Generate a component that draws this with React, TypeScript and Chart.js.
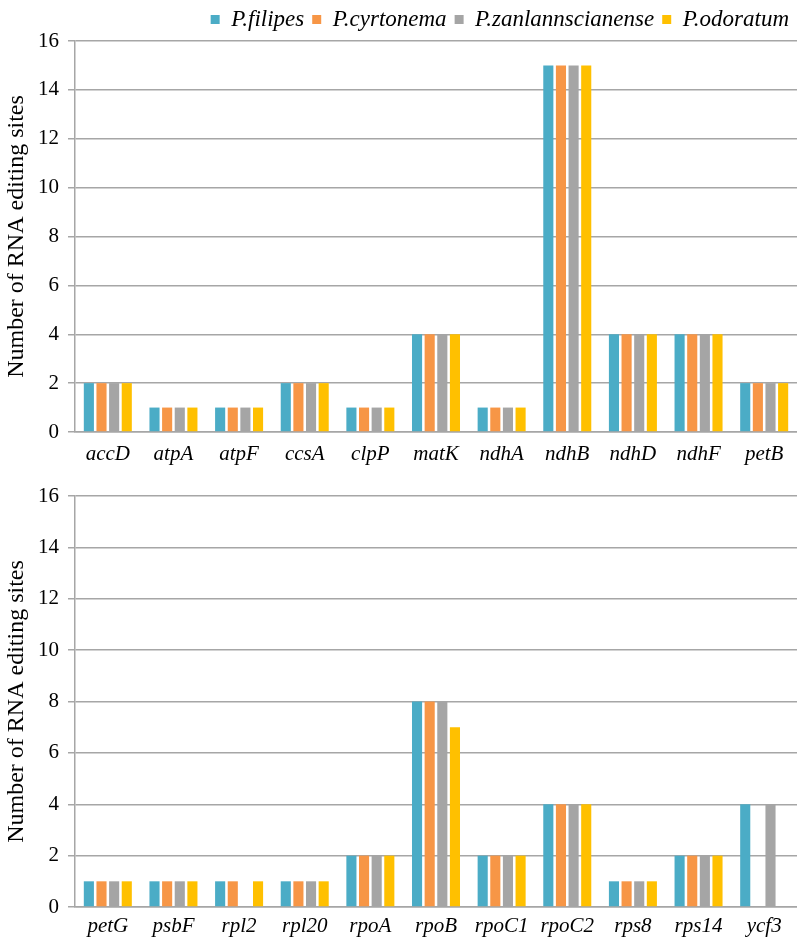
import React, { useEffect, useRef } from "react";
import { Chart, registerables } from "chart.js";

Chart.register(...registerables);

const seriesNames = ["P.filipes", "P.cyrtonema", "P.zanlannscianense", "P.odoratum"];
const seriesColors = ["#4BACC6", "#F79646", "#A5A5A5", "#FFC000"];

const genesTop = ["accD", "atpA", "atpF", "ccsA", "clpP", "matK", "ndhA", "ndhB", "ndhD", "ndhF", "petB"];
const topFilipes = [2, 1, 1, 2, 1, 4, 1, 15, 4, 4, 2];
const topCyrtonema = [2, 1, 1, 2, 1, 4, 1, 15, 4, 4, 2];
const topZanlann = [2, 1, 1, 2, 1, 4, 1, 15, 4, 4, 2];
const topOdoratum = [2, 1, 1, 2, 1, 4, 1, 15, 4, 4, 2];

const genesBottom = ["petG", "psbF", "rpl2", "rpl20", "rpoA", "rpoB", "rpoC1", "rpoC2", "rps8", "rps14", "ycf3"];
const botFilipes = [1, 1, 1, 1, 2, 8, 2, 4, 1, 2, 4];
const botCyrtonema = [1, 1, 1, 1, 2, 8, 2, 4, 1, 2, null];
const botZanlann = [1, 1, null, 1, 2, 8, 2, 4, 1, 2, 4];
const botOdoratum = [1, 1, 1, 1, 2, 7, 2, 4, 1, 2, null];

const yTitle = "Number of RNA editing sites";
const FONT = "'Liberation Serif', 'Times New Roman', serif";
const GRID = "#A6A6A6";

function makeConfig(labels: string[], data: (number | null)[][], showLegend: boolean, xHeight: number, topPad: number, xPad: number): any {
  return {
    type: "bar",
    data: {
      labels,
      datasets: data.map((d, i) => ({
        label: seriesNames[i],
        data: d,
        backgroundColor: seriesColors[i],
        borderWidth: 0,
        barPercentage: 0.8,
        categoryPercentage: 0.77,
      })),
    },
    options: {
      animation: false,
      responsive: false,
      maintainAspectRatio: false,
      layout: { padding: { left: 0, right: 0, top: topPad, bottom: 0 } },
      plugins: {
        tooltip: { enabled: false },
        legend: {
          display: showLegend,
          position: "top",
          align: "end",
          labels: {
            boxWidth: 9,
            boxHeight: 9,
            padding: 8,
            color: "#000",
            font: { family: FONT, size: 23, style: "italic" },
          },
        },
      },
      scales: {
        x: {
          grid: { display: false, drawTicks: false },
          border: { display: true, color: GRID, width: 1.5 },
          ticks: {
            color: "#000",
            padding: xPad,
            maxRotation: 0,
            autoSkip: false,
            font: { family: FONT, size: 21, style: "italic" },
          },
          afterFit: (s: any) => { s.height = xHeight; },
        },
        y: {
          min: 0,
          max: 16,
          ticks: {
            stepSize: 2,
            color: "#000",
            padding: 9,
            font: { family: FONT, size: 21 },
          },
          grid: { color: GRID, lineWidth: 1.5, tickLength: 7 },
          border: { display: true, color: GRID, width: 1.5 },
          title: {
            display: true,
            text: yTitle,
            color: "#000",
            padding: { top: 2, bottom: 0 },
            font: { family: FONT, size: 24 },
          },
          afterFit: (s: any) => { s.width = 75; },
        },
      },
    },
  };
}

function BarChart(props: { labels: string[]; data: (number | null)[][]; legend: boolean; height: number; xHeight: number; topPad: number; xPad: number }) {
  const ref = useRef<HTMLCanvasElement | null>(null);
  useEffect(() => {
    if (!ref.current) return;
    const chart = new Chart(ref.current, makeConfig(props.labels, props.data, props.legend, props.xHeight, props.topPad, props.xPad));
    return () => chart.destroy();
  }, []);
  return <canvas ref={ref} width={797} height={props.height} style={{ display: "block", width: 797, height: props.height }} />;
}

export default function App() {
  return (
    <div style={{ position: "absolute", left: 0, top: 0, width: 797, height: 939, background: "#fff" }}>
      <BarChart
        labels={genesTop}
        data={[topFilipes, topCyrtonema, topZanlann, topOdoratum]}
        legend={true}
        height={470}
        xHeight={38}
        topPad={0}
        xPad={10}
      />
      <BarChart
        labels={genesBottom}
        data={[botFilipes, botCyrtonema, botZanlann, botOdoratum]}
        legend={false}
        height={469}
        xHeight={32}
        topPad={26}
        xPad={7}
      />
    </div>
  );
}
